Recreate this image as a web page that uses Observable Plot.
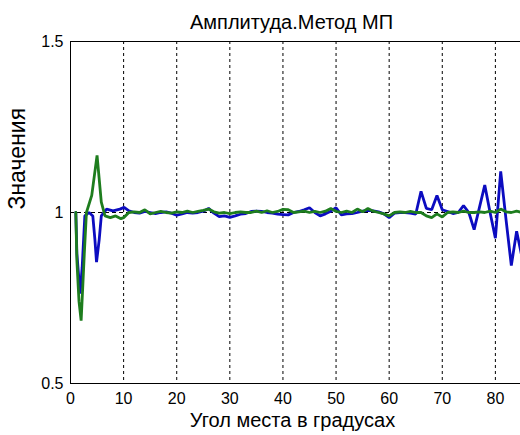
<!DOCTYPE html>
<html>
<head>
<meta charset="utf-8">
<script src="https://cdn.jsdelivr.net/npm/d3@7"></script>
<script src="https://cdn.jsdelivr.net/npm/@observablehq/plot@0.6"></script>
<style>
  html, body { margin: 0; padding: 0; background: #fff; overflow: hidden; }
  #chart svg { overflow: hidden; }
</style>
</head>
<body>
<div id="chart"></div>
<script>
const titleText = "Амплитуда.Метод МП";
const xLabel = "Угол места в градусах";
const yLabel = "Значения";
const xTicks = [0, 10, 20, 30, 40, 50, 60, 70, 80];
const xGrid = [10, 20, 30, 40, 50, 60, 70, 80, 90];
const yTicks = [0.5, 1, 1.5];
const xDomain = [0, 90];
const yDomain = [0.5, 1.5];
const refValue = [1];

// blue series (angle, value)
const blueAngle = [1, 1.2, 1.8, 2.2, 2.7, 3.5, 4.2, 4.6, 4.9, 5.4, 5.8, 6.8, 8, 9.3, 10.1,
  11, 12, 13, 14, 15, 16, 17, 18, 19, 20, 21, 22, 23, 24, 25, 26, 27, 28, 29, 30,
  31, 32, 33, 34, 35, 36, 37, 38, 39, 40, 41, 42, 43, 44, 45, 46, 47, 48, 49, 50,
  51, 52, 53, 54, 55, 56, 57, 58, 59, 60, 61, 62, 63, 64, 65, 66, 67, 68, 69, 70,
  71, 72, 73, 74, 75, 76, 77, 78, 79, 80, 81, 82, 83, 84, 85, 86];
const blueValue = [1.0, 0.88, 0.763, 0.84, 0.99, 1.0, 0.99, 0.92, 0.855, 0.92, 0.99, 1.01, 1.005, 1.01, 1.015,
  1.005, 1.0, 0.998, 1.003, 1.0, 0.997, 1.0, 1.002, 0.998, 0.992, 0.996, 1.0, 0.998, 1.0, 1.004, 1.012, 0.998, 0.988, 0.99, 0.986,
  0.99, 0.995, 0.997, 1.003, 1.004, 1.003, 1.0, 0.998, 0.995, 0.994, 0.993, 1.0, 1.003, 1.008, 1.014, 1.0, 0.99, 0.996, 1.004, 1.014,
  0.993, 0.996, 0.997, 1.0, 1.004, 1.006, 1.005, 1.002, 0.996, 0.985, 0.998, 1.0, 1.0, 0.998, 0.995, 1.062, 1.012, 1.008, 1.05, 1.008,
  1.003, 0.997, 1.0, 1.02, 1.0, 0.95, 1.015, 1.08, 1.0, 0.925, 1.12, 0.98, 0.845, 0.945, 0.87, 0.95];

// green series (angle, value)
const greenAngle = [1, 1.2, 1.6, 2, 2.3, 2.6, 3, 4, 5, 5.8, 6.5, 7.5, 8.5, 9.5, 10,
  11, 12, 13, 14, 15, 16, 17, 18, 19, 20, 21, 22, 23, 24, 25, 26, 27, 28, 29, 30,
  31, 32, 33, 34, 35, 36, 37, 38, 39, 40, 41, 42, 43, 44, 45, 46, 47, 48, 49, 50,
  51, 52, 53, 54, 55, 56, 57, 58, 59, 60, 61, 62, 63, 64, 65, 66, 67, 68, 69, 70,
  71, 72, 73, 74, 75, 76, 77, 78, 79, 80, 81, 82, 83, 84, 85, 86];
const greenValue = [1.0, 0.86, 0.74, 0.684, 0.78, 0.88, 1.0, 1.05, 1.167, 1.03, 0.99, 0.985, 0.99, 0.982, 0.985,
  1.0, 1.002, 1.0, 1.008, 0.996, 1.0, 1.003, 1.0, 0.998, 1.002, 1.0, 1.004, 1.0, 1.003, 1.006, 1.01, 1.002, 0.998, 1.0, 0.997,
  1.0, 1.002, 1.0, 1.0, 1.004, 1.0, 1.005, 1.0, 1.003, 1.009, 1.008, 1.0, 1.002, 1.004, 1.0, 1.003, 1.0, 1.004, 1.012, 1.003,
  1.0, 1.004, 1.0, 1.01, 1.002, 1.012, 1.004, 1.0, 0.996, 0.99, 1.0, 1.002, 1.0, 1.003, 1.0, 1.0, 0.99, 0.985, 0.996, 0.987,
  1.0, 1.002, 1.0, 1.004, 1.0, 1.0, 1.002, 1.0, 1.004, 1.0, 1.01, 1.002, 1.0, 1.004, 1.0, 1.0];

const blue = blueAngle.map((a, i) => ({angle: a, value: blueValue[i]}));
const green = greenAngle.map((a, i) => ({angle: a, value: greenValue[i]}));

const font = "'Liberation Sans', Arial, sans-serif";

const chart = Plot.plot({
  width: 520,
  height: 435,
  marginLeft: 70,
  marginRight: 0,
  marginTop: 41,
  marginBottom: 52,
  style: {fontFamily: font, fontSize: "16px", color: "black", background: "white"},
  x: {domain: xDomain, range: [70, 548], ticks: xTicks, tickSize: 0, tickPadding: 9, tickFormat: d => String(d), label: null},
  y: {domain: yDomain, ticks: yTicks, tickSize: 0, tickPadding: 7, tickFormat: d => String(d), label: null},
  marks: [
    Plot.ruleX(xGrid, {stroke: "black", strokeWidth: 1, strokeDasharray: "3,3"}),
    Plot.ruleY(refValue, {stroke: "black", strokeWidth: 1, strokeDasharray: "4,3"}),
    Plot.line(blue, {x: "angle", y: "value", stroke: "#0c0cc0", strokeWidth: 2.8, strokeLinejoin: "miter"}),
    Plot.line(green, {x: "angle", y: "value", stroke: "#1e7d1e", strokeWidth: 2.8, strokeLinejoin: "miter"}),
    Plot.ruleX([xDomain[0]], {stroke: "black", strokeWidth: 1}),
    Plot.ruleY([yDomain[0]], {stroke: "black", strokeWidth: 1}),
    Plot.ruleY([yDomain[1]], {stroke: "black", strokeWidth: 1}),
    Plot.text([titleText], {frameAnchor: "top", lineAnchor: "middle", dx: -4, dy: -19, fontSize: 20, fill: "black"}),
    Plot.text([xLabel], {frameAnchor: "bottom", lineAnchor: "middle", dx: -3, dy: 37, fontSize: 20, fill: "black"}),
    Plot.text([yLabel], {frameAnchor: "left", lineAnchor: "middle", rotate: -90, dx: -53, dy: -3, fontSize: 23, fill: "black"})
  ]
});
document.getElementById("chart").appendChild(chart);
</script>
</body>
</html>
